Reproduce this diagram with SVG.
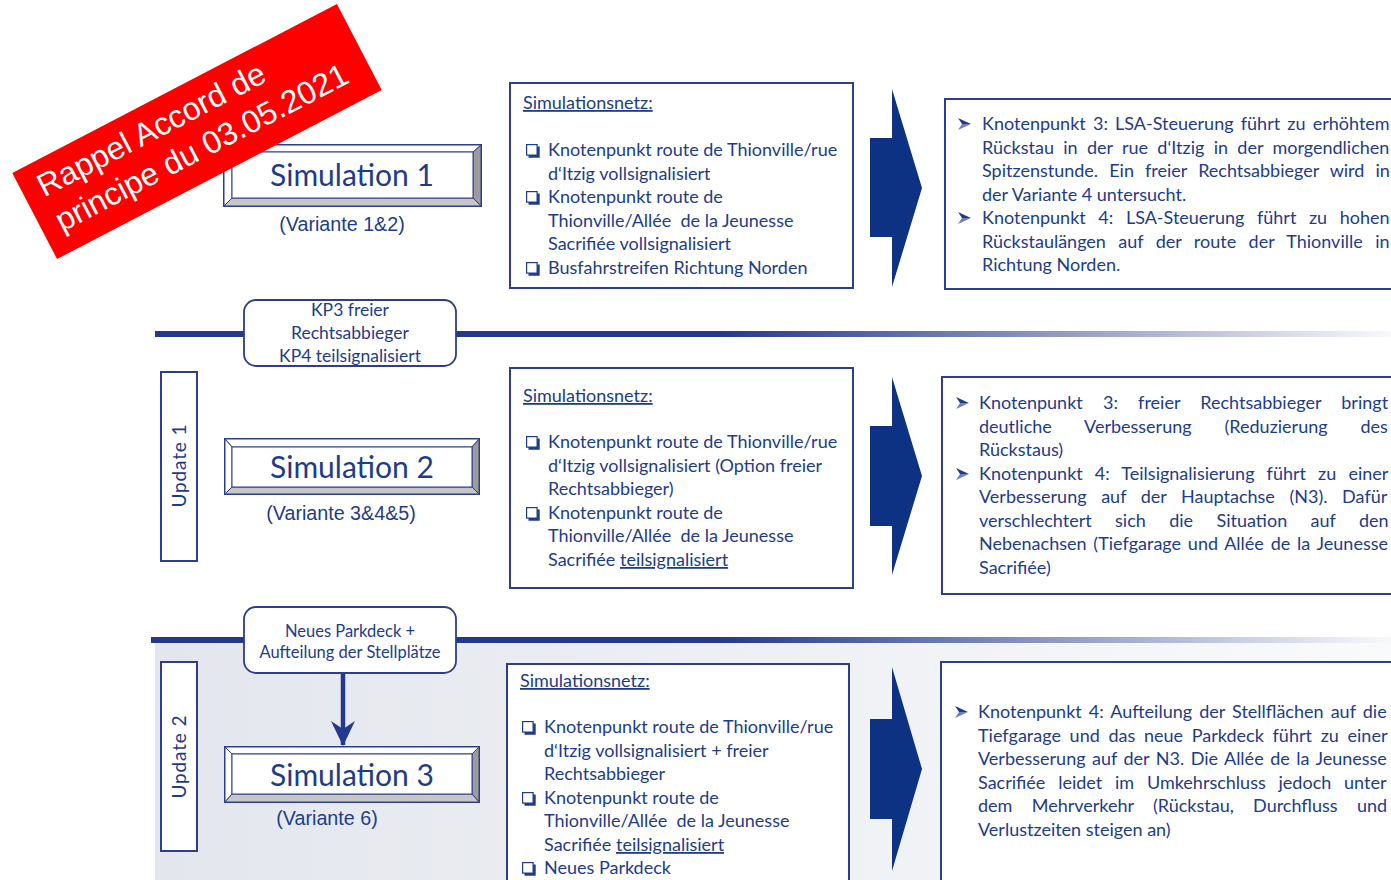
<svg xmlns="http://www.w3.org/2000/svg" width="1391" height="880" viewBox="0 0 1391 880">
<defs>
<style>
.t{font-family:Lato,'Open Sans',sans-serif;fill:#1e3c8a;font-size:18px}
.ar{font-family:'Liberation Sans',Arial,sans-serif;fill:#1e3c8a;font-size:19.7px;text-anchor:middle}
.box{fill:#fff;stroke:#2e3d8f;stroke-width:2}
.sim{font-family:Lato,'Open Sans',sans-serif;fill:#1e3c8a;font-size:30px;text-anchor:middle}
.mid{text-anchor:middle}
.bev{stroke:#2e3d8f;stroke-width:1}
.navy{fill:#0d3284}
.sep{stroke:#24398c;stroke-width:6}
.u{text-decoration:underline}
</style>
<linearGradient id="fade" gradientUnits="userSpaceOnUse" x1="456" y1="0" x2="1391" y2="0">
<stop offset="0" stop-color="#24398c"/>
<stop offset="0.28" stop-color="#24398c"/>
<stop offset="1" stop-color="#24398c" stop-opacity="0.03"/>
</linearGradient>
<linearGradient id="bg" x1="0" y1="0" x2="1" y2="0">
<stop offset="0" stop-color="#e3e6ed"/>
<stop offset="1" stop-color="#f9fafb"/>
</linearGradient>
<g id="cb">
<rect x="0.6" y="0.6" width="10.5" height="10.5" fill="#fff" stroke="#1e3c8a" stroke-width="1.2"/>
<path d="M11.1,2.5 h2.6 v11.2 h-11.2 v-2.6 h8.6 z" fill="#1e3c8a"/>
</g>
<g id="bul">
<polygon points="0,0 13,6 4,6" fill="#1e3c8a"/>
<polygon points="4,6 13,6 0,12" fill="#6f7fb8"/>
</g>
<marker id="ah" viewBox="0 0 25 24" refX="24" refY="12" markerWidth="25" markerHeight="24" markerUnits="userSpaceOnUse" orient="auto">
<path d="M0,0 L25,12 L0,24 L8,12 Z" fill="#24398c"/>
</marker>
</defs>

<rect width="1391" height="880" fill="#fff"/>
<rect x="155" y="643" width="1236" height="237" fill="url(#bg)"/>

<g id="separators">
<line class="sep" x1="155" y1="334" x2="244" y2="334"/>
<rect x="456" y="331" width="935" height="6" fill="url(#fade)"/>
<line class="sep" x1="151" y1="640" x2="245" y2="640"/>
<rect x="456" y="637" width="935" height="6" fill="url(#fade)"/>
</g>

<g id="connectors">
<line x1="343" y1="673" x2="343" y2="745" stroke="#24398c" stroke-width="4.5" marker-end="url(#ah)"/>
</g>

<g id="sim1">
<rect x="224" y="145" width="257" height="61" fill="#fff" stroke="#2e3d8f" stroke-width="2"/>
<polygon class="bev" points="224,145 481,145 473,152 232,152" fill="#fff"/>
<polygon class="bev" points="224,145 232,152 232,198 224,206" fill="#fff"/>
<polygon class="bev" points="481,145 481,206 473,198 473,152" fill="#9c9c9c"/>
<polygon class="bev" points="224,206 481,206 473,198 232,198" fill="#c6c6c6"/>
<rect x="232" y="152" width="241" height="46" fill="#fff" stroke="#2e3d8f" stroke-width="1"/>
<text class="sim" x="352" y="186">Simulation 1</text>
<text class="ar" x="342" y="231">(Variante 1&amp;2)</text>
</g>

<g id="sim2">
<rect x="225" y="439" width="254" height="55" fill="#fff" stroke="#2e3d8f" stroke-width="2"/>
<polygon class="bev" points="225,439 479,439 472,447 232,447" fill="#fff"/>
<polygon class="bev" points="225,439 232,447 232,487 225,494" fill="#fff"/>
<polygon class="bev" points="479,439 479,494 472,487 472,447" fill="#9c9c9c"/>
<polygon class="bev" points="225,494 479,494 472,487 232,487" fill="#c6c6c6"/>
<rect x="232" y="447" width="240" height="40" fill="#fff" stroke="#2e3d8f" stroke-width="1"/>
<text class="sim" x="352" y="478">Simulation 2</text>
<text class="ar" x="341" y="520">(Variante 3&amp;4&amp;5)</text>
</g>

<g id="sim3">
<rect x="225" y="747" width="254" height="55" fill="#fff" stroke="#2e3d8f" stroke-width="2"/>
<polygon class="bev" points="225,747 479,747 472,754 232,754" fill="#fff"/>
<polygon class="bev" points="225,747 232,754 232,794 225,802" fill="#fff"/>
<polygon class="bev" points="479,747 479,802 472,794 472,754" fill="#9c9c9c"/>
<polygon class="bev" points="225,802 479,802 472,794 232,794" fill="#c6c6c6"/>
<rect x="232" y="754" width="240" height="40" fill="#fff" stroke="#2e3d8f" stroke-width="1"/>
<text class="sim" x="352" y="786">Simulation 3</text>
<text class="ar" x="327" y="825">(Variante 6)</text>
</g>

<g id="kp3">
<rect x="244" y="300" width="212" height="66" rx="12" fill="#fff" stroke="#2e3d8f" stroke-width="1.8"/>
<text class="t mid" x="350" y="316" style="font-size:17.5px">KP3 freier</text>
<text class="t mid" x="350" y="339" style="font-size:17.5px">Rechtsabbieger</text>
<text class="t mid" x="350" y="362" style="font-size:17.5px">KP4 teilsignalisiert</text>
</g>

<g id="parkdeck">
<rect x="244" y="607" width="212" height="66" rx="12" fill="#fff" stroke="#2e3d8f" stroke-width="1.8"/>
<text class="t mid" x="350" y="637" style="font-size:16.5px">Neues Parkdeck +</text>
<text class="t mid" x="350" y="658" style="font-size:16.5px">Aufteilung der Stellplätze</text>
</g>

<g id="update1">
<rect x="161" y="372" width="36" height="189" fill="#fff" stroke="#2e3d8f" stroke-width="2"/>
<text class="t mid" transform="translate(186,466) rotate(-90)" style="font-size:19px" textLength="83">Update 1</text>
</g>

<g id="update2">
<rect x="161" y="662" width="36" height="189" fill="#fff" stroke="#2e3d8f" stroke-width="2"/>
<text class="t mid" transform="translate(186,757) rotate(-90)" style="font-size:19px" textLength="83">Update 2</text>
</g>

<g id="net1">
<rect class="box" x="510" y="83" width="343" height="205"/>
<text class="t u" x="523" y="109">Simulationsnetz:</text>
<use href="#cb" x="526" y="144"/>
<text class="t" x="548" y="156">Knotenpunkt route de Thionville/rue</text>
<text class="t" x="548" y="180">d‘Itzig vollsignalisiert</text>
<use href="#cb" x="526" y="191"/>
<text class="t" x="548" y="203">Knotenpunkt route de</text>
<text class="t" x="548" y="227" xml:space="preserve">Thionville/Allée  de la Jeunesse</text>
<text class="t" x="548" y="250">Sacrifiée vollsignalisiert</text>
<use href="#cb" x="526" y="262"/>
<text class="t" x="548" y="274">Busfahrstreifen Richtung Norden</text>
</g>

<g id="net2">
<rect class="box" x="510" y="368" width="343" height="220"/>
<text class="t u" x="523" y="402">Simulationsnetz:</text>
<use href="#cb" x="526" y="436"/>
<text class="t" x="548" y="448">Knotenpunkt route de Thionville/rue</text>
<text class="t" x="548" y="472">d‘Itzig vollsignalisiert (Option freier</text>
<text class="t" x="548" y="495">Rechtsabbieger)</text>
<use href="#cb" x="526" y="507"/>
<text class="t" x="548" y="519">Knotenpunkt route de</text>
<text class="t" x="548" y="542" xml:space="preserve">Thionville/Allée  de la Jeunesse</text>
<text class="t" x="548" y="566">Sacrifiée <tspan class="u">teilsignalisiert</tspan></text>
</g>

<g id="net3">
<rect class="box" x="507" y="664" width="342" height="230"/>
<text class="t u" x="520" y="687">Simulationsnetz:</text>
<use href="#cb" x="522" y="721"/>
<text class="t" x="544" y="733">Knotenpunkt route de Thionville/rue</text>
<text class="t" x="544" y="757">d‘Itzig vollsignalisiert + freier</text>
<text class="t" x="544" y="780">Rechtsabbieger</text>
<use href="#cb" x="522" y="792"/>
<text class="t" x="544" y="804">Knotenpunkt route de</text>
<text class="t" x="544" y="827" xml:space="preserve">Thionville/Allée  de la Jeunesse</text>
<text class="t" x="544" y="851">Sacrifiée <tspan class="u">teilsignalisiert</tspan></text>
<use href="#cb" x="522" y="862"/>
<text class="t" x="544" y="874">Neues Parkdeck</text>
</g>

<g id="arrow1"><polygon class="navy" points="870,138 892,138 892,89 922,188 892,287 892,237 870,237"/></g>
<g id="arrow2"><polygon class="navy" points="870,426 892,426 892,377 922,476 892,575 892,526 870,526"/></g>
<g id="arrow3"><polygon class="navy" points="870,719 892,719 892,667 922,769 892,871 892,819 870,819"/></g>

<g id="res1">
<rect class="box" x="945" y="99" width="460" height="190"/>
<use href="#bul" x="958" y="118"/>
<text class="t" x="982" y="130" style="word-spacing:2.6px">Knotenpunkt 3: LSA-Steuerung führt zu erhöhtem</text>
<text class="t" x="982" y="154" style="word-spacing:4.7px">Rückstau in der rue d‘Itzig in der morgendlichen</text>
<text class="t" x="982" y="177" style="word-spacing:6.5px">Spitzenstunde. Ein freier Rechtsabbieger wird in</text>
<text class="t" x="982" y="201">der Variante 4 untersucht.</text>
<use href="#bul" x="958" y="212"/>
<text class="t" x="982" y="224" style="word-spacing:8px">Knotenpunkt 4: LSA-Steuerung führt zu hohen</text>
<text class="t" x="982" y="248" style="word-spacing:7.8px">Rückstaulängen auf der route der Thionville in</text>
<text class="t" x="982" y="271">Richtung Norden.</text>
</g>

<g id="res2">
<rect class="box" x="942" y="377" width="460" height="217"/>
<use href="#bul" x="956" y="397"/>
<text class="t" x="979" y="409" style="word-spacing:15.6px">Knotenpunkt 3: freier Rechtsabbieger bringt</text>
<text class="t" x="979" y="433" style="word-spacing:28.3px">deutliche Verbesserung (Reduzierung des</text>
<text class="t" x="979" y="456">Rückstaus)</text>
<use href="#bul" x="956" y="468"/>
<text class="t" x="979" y="480" style="word-spacing:7.5px">Knotenpunkt 4: Teilsignalisierung führt zu einer</text>
<text class="t" x="979" y="503" style="word-spacing:10px">Verbesserung auf der Hauptachse (N3). Dafür</text>
<text class="t" x="979" y="527" style="word-spacing:18.8px">verschlechtert sich die Situation auf den</text>
<text class="t" x="979" y="550" style="word-spacing:2.2px">Nebenachsen (Tiefgarage und Allée de la Jeunesse</text>
<text class="t" x="979" y="574">Sacrifiée)</text>
</g>

<g id="res3">
<rect class="box" x="941" y="662" width="460" height="230"/>
<use href="#bul" x="955" y="706"/>
<text class="t" x="978" y="718" style="word-spacing:2.5px">Knotenpunkt 4: Aufteilung der Stellflächen auf die</text>
<text class="t" x="978" y="742" style="word-spacing:4.1px">Tiefgarage und das neue Parkdeck führt zu einer</text>
<text class="t" x="978" y="765" style="word-spacing:1.9px">Verbesserung auf der N3. Die Allée de la Jeunesse</text>
<text class="t" x="978" y="789" style="word-spacing:8.2px">Sacrifiée leidet im Umkehrschluss jedoch unter</text>
<text class="t" x="978" y="812" style="word-spacing:14.7px">dem Mehrverkehr (Rückstau, Durchfluss und</text>
<text class="t" x="978" y="836">Verlustzeiten steigen an)</text>
</g>

<g id="banner" transform="translate(197,131.5) rotate(-27.5)">
<rect x="-183" y="-48.5" width="366" height="97" fill="#ff0000"/>
<text x="-166" y="-12" fill="#fff" style="font-family:'Liberation Sans',Arial,sans-serif;font-size:32px">Rappel Accord de</text>
<text x="-166" y="27" fill="#fff" style="font-family:'Liberation Sans',Arial,sans-serif;font-size:32px">principe du 03.05.2021</text>
</g>
</svg>
